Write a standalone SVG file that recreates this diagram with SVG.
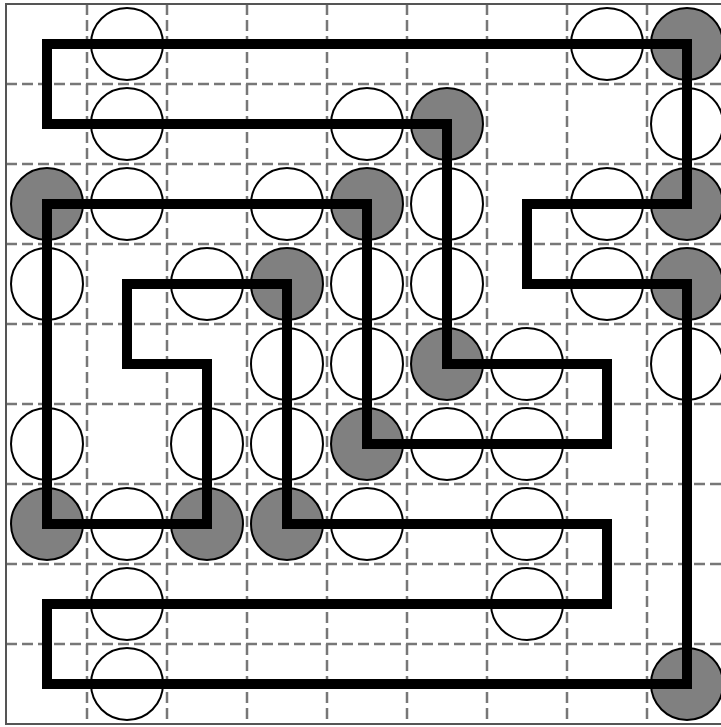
<svg xmlns="http://www.w3.org/2000/svg" width="721" height="727" viewBox="0 0 721 727">
<style>
.grid{stroke:#777;stroke-width:2.5;stroke-dasharray:11,5;fill:none}
.border{stroke:#555;stroke-width:2;fill:none}
.w{fill:#fff;stroke:#000;stroke-width:2}
.b{fill:#808080;stroke:#000;stroke-width:2}
.loop{fill:none;stroke:#000;stroke-width:10;stroke-linejoin:miter;stroke-linecap:square}
</style>
<rect x="0" y="0" width="721" height="727" fill="#fff"/>
<g id="grid">
<path class="grid" d="M87 4V724M167 4V724M247 4V724M327 4V724M407 4V724M487 4V724M567 4V724M647 4V724M6 84H727M6 164H727M6 244H727M6 324H727M6 404H727M6 484H727M6 564H727M6 644H727"/>
<path class="border" d="M727 4H6V724H727"/>
</g>
<g id="circles">
<circle id="c0_1" class="w" cx="127" cy="44" r="36"/>
<circle id="c0_7" class="w" cx="607" cy="44" r="36"/>
<circle id="c0_8" class="b" cx="687" cy="44" r="36"/>
<circle id="c1_1" class="w" cx="127" cy="124" r="36"/>
<circle id="c1_4" class="w" cx="367" cy="124" r="36"/>
<circle id="c1_5" class="b" cx="447" cy="124" r="36"/>
<circle id="c1_8" class="w" cx="687" cy="124" r="36"/>
<circle id="c2_0" class="b" cx="47" cy="204" r="36"/>
<circle id="c2_1" class="w" cx="127" cy="204" r="36"/>
<circle id="c2_3" class="w" cx="287" cy="204" r="36"/>
<circle id="c2_4" class="b" cx="367" cy="204" r="36"/>
<circle id="c2_5" class="w" cx="447" cy="204" r="36"/>
<circle id="c2_7" class="w" cx="607" cy="204" r="36"/>
<circle id="c2_8" class="b" cx="687" cy="204" r="36"/>
<circle id="c3_0" class="w" cx="47" cy="284" r="36"/>
<circle id="c3_2" class="w" cx="207" cy="284" r="36"/>
<circle id="c3_3" class="b" cx="287" cy="284" r="36"/>
<circle id="c3_4" class="w" cx="367" cy="284" r="36"/>
<circle id="c3_5" class="w" cx="447" cy="284" r="36"/>
<circle id="c3_7" class="w" cx="607" cy="284" r="36"/>
<circle id="c3_8" class="b" cx="687" cy="284" r="36"/>
<circle id="c4_3" class="w" cx="287" cy="364" r="36"/>
<circle id="c4_4" class="w" cx="367" cy="364" r="36"/>
<circle id="c4_5" class="b" cx="447" cy="364" r="36"/>
<circle id="c4_6" class="w" cx="527" cy="364" r="36"/>
<circle id="c4_8" class="w" cx="687" cy="364" r="36"/>
<circle id="c5_0" class="w" cx="47" cy="444" r="36"/>
<circle id="c5_2" class="w" cx="207" cy="444" r="36"/>
<circle id="c5_3" class="w" cx="287" cy="444" r="36"/>
<circle id="c5_4" class="b" cx="367" cy="444" r="36"/>
<circle id="c5_5" class="w" cx="447" cy="444" r="36"/>
<circle id="c5_6" class="w" cx="527" cy="444" r="36"/>
<circle id="c6_0" class="b" cx="47" cy="524" r="36"/>
<circle id="c6_1" class="w" cx="127" cy="524" r="36"/>
<circle id="c6_2" class="b" cx="207" cy="524" r="36"/>
<circle id="c6_3" class="b" cx="287" cy="524" r="36"/>
<circle id="c6_4" class="w" cx="367" cy="524" r="36"/>
<circle id="c6_6" class="w" cx="527" cy="524" r="36"/>
<circle id="c7_1" class="w" cx="127" cy="604" r="36"/>
<circle id="c7_6" class="w" cx="527" cy="604" r="36"/>
<circle id="c8_1" class="w" cx="127" cy="684" r="36"/>
<circle id="c8_8" class="b" cx="687" cy="684" r="36"/>
</g>
<g id="connectors">
<path class="loop" d="M47 44H687V204H527V284H687V684H47V604H607V524H287V284H127V364H207V524H47V204H367V444H607V364H447V124H47Z"/>
</g>
</svg>
